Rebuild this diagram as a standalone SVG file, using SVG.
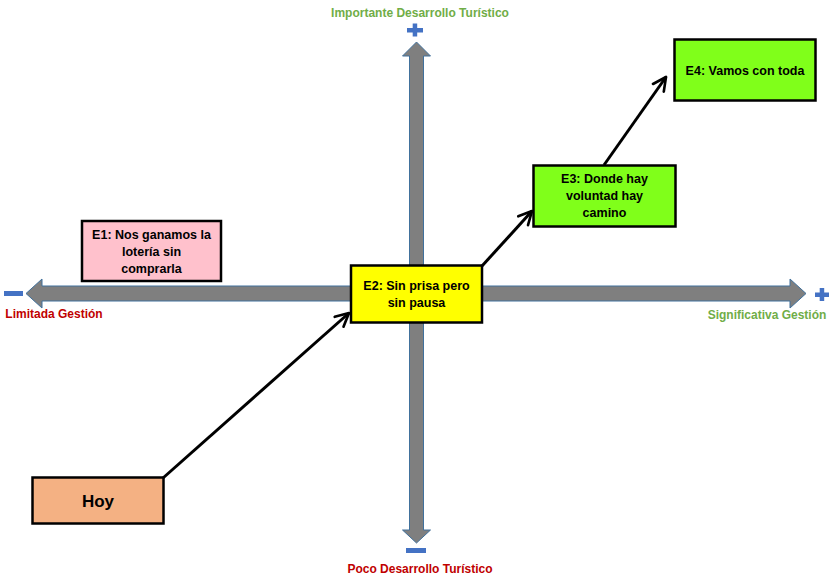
<svg xmlns="http://www.w3.org/2000/svg" width="832" height="578" viewBox="0 0 832 578">
<style>
.axis{fill:#7f7f7f;stroke:#41719c;stroke-width:1}
.sign{fill:#4472c4}
.lbl{font-family:"Liberation Sans",Arial,sans-serif;font-weight:bold;font-size:12px;text-anchor:middle}
.green{fill:#70ad47}
.red{fill:#c00000}
.box{stroke:#000;stroke-width:2.5}
.t{font-family:"Liberation Sans",Arial,sans-serif;font-weight:bold;font-size:12.5px;text-anchor:middle;fill:#000}
.conn{stroke:#000;stroke-width:3;fill:none;marker-end:url(#arr)}
</style>
<defs>
<marker id="arr" viewBox="0 0 10 10" refX="9" refY="5" markerWidth="5.5" markerHeight="5.5" orient="auto" markerUnits="strokeWidth">
<path d="M1,1 L9,5 L1,9" fill="none" stroke="#000" stroke-width="1.6" stroke-linecap="round" stroke-linejoin="round"/>
</marker>
</defs>
<rect width="832" height="578" fill="#fff"/>
<g id="axes">
<polygon class="axis" points="26,293.5 42,279 42,286 790,286 790,279 806,293.5 790,308 790,301 42,301 42,308"/>
<polygon class="axis" points="416.5,42 430.5,56 423.5,56 423.5,530 430.5,530 416.5,543 402.5,530 409.5,530 409.5,56 402.5,56"/>
<rect class="sign" x="407" y="28" width="16" height="4.5"/>
<rect class="sign" x="412.7" y="23.5" width="4.5" height="13"/>
<rect class="sign" x="815" y="292.5" width="14" height="4.5"/>
<rect class="sign" x="819.7" y="288" width="4.5" height="13"/>
<rect class="sign" x="4" y="291" width="19" height="5"/>
<rect class="sign" x="406" y="548" width="20" height="5"/>
<text class="lbl green" x="420" y="17">Importante Desarrollo Turístico</text>
<text class="lbl red" x="420" y="573">Poco Desarrollo Turístico</text>
<text class="lbl red" x="54" y="318">Limitada Gestión</text>
<text class="lbl green" x="767" y="319">Significativa Gestión</text>
</g>
<g id="E1">
<rect class="box" x="82" y="221" width="139" height="60" fill="#ffc1cc"/>
<text class="t" x="151.5" y="238.5">E1: Nos ganamos la</text>
<text class="t" x="151.5" y="255.5">lotería sin</text>
<text class="t" x="151.5" y="272.5">comprarla</text>
</g>
<g id="E2">
<rect class="box" x="351" y="265.5" width="131" height="57" fill="#ffff00"/>
<text class="t" x="416.5" y="289.5">E2: Sin prisa pero</text>
<text class="t" x="416.5" y="306.5">sin pausa</text>
</g>
<g id="E3">
<rect class="box" x="533.5" y="165.5" width="142" height="61" fill="#80ff1a"/>
<text class="t" x="604.5" y="183">E3: Donde hay</text>
<text class="t" x="604.5" y="200">voluntad hay</text>
<text class="t" x="604.5" y="216.5">camino</text>
</g>
<g id="E4">
<rect class="box" x="674.5" y="39.5" width="141" height="61" fill="#80ff1a"/>
<text class="t" x="745" y="74.5">E4: Vamos con toda</text>
</g>
<g id="Hoy">
<rect class="box" x="32.5" y="477.5" width="131" height="46" fill="#f4b183"/>
<text class="t" x="98" y="507" style="font-size:17px">Hoy</text>
</g>
<g id="connectors">
<line class="conn" x1="163" y1="478" x2="349" y2="313"/>
<line class="conn" x1="482" y1="266" x2="532" y2="211"/>
<line class="conn" x1="604" y1="165" x2="666" y2="77"/>
</g>
</svg>
